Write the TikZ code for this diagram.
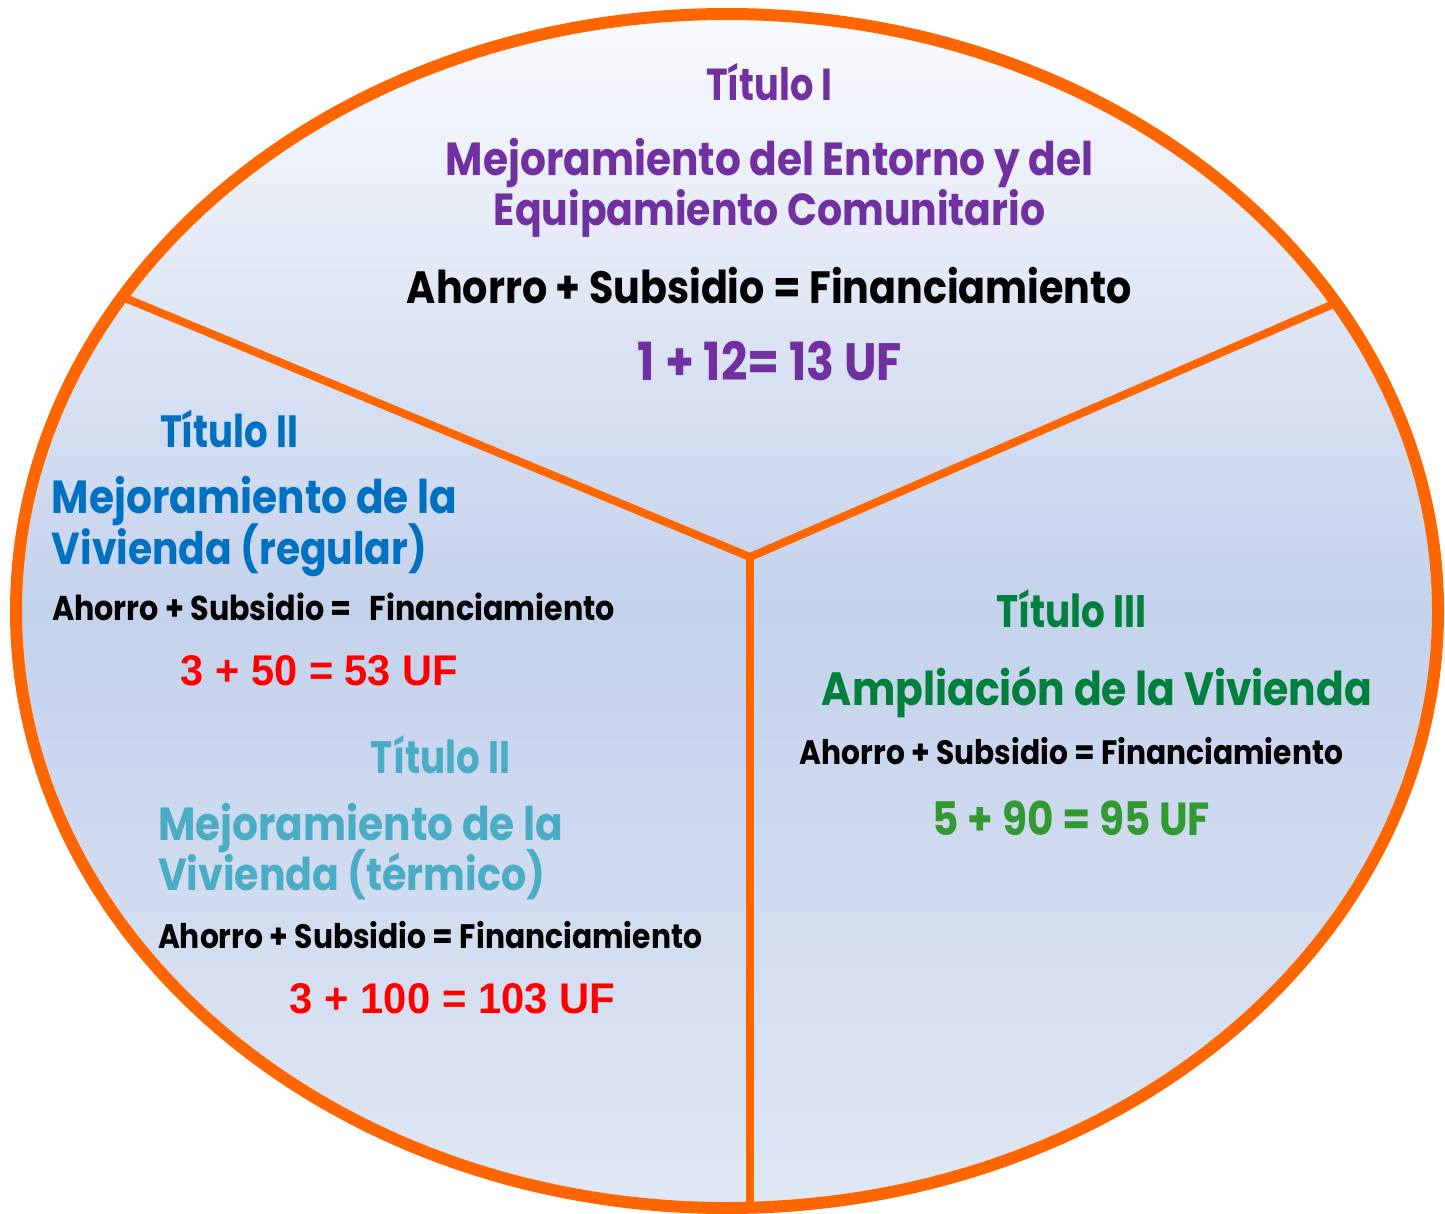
\documentclass[tikz,border=0pt]{standalone}
\usepackage{fontspec}
\setmainfont{Poppins}
\newfontfamily\numfont{Liberation Sans}
\definecolor{orng}{HTML}{FF6600}
\definecolor{purp}{HTML}{7030A0}
\definecolor{blu}{HTML}{0070C0}
\definecolor{lblu}{HTML}{4BACC6}
\definecolor{dgrn}{HTML}{00803C}
\definecolor{lgrn}{HTML}{339933}
\definecolor{redd}{HTML}{FF0000}
\definecolor{topc}{HTML}{F9FAFD}
\definecolor{midc}{HTML}{C4D2EC}
\definecolor{botc}{HTML}{E0E7F4}
\tikzset{
  txt/.style={inner sep=0pt, outer sep=0pt, font=\bfseries},
  divider/.style={draw=orng, line width=8pt},
  rim/.style={draw=orng, line width=12pt},
}
\newcommand{\fitw}[2]{\scalebox{1}[1.14]{\resizebox{#1pt}{!}{#2}}}
\newcommand{\fitt}[2]{\scalebox{1}[1.22]{\resizebox{#1pt}{!}{#2}}}
\newcommand{\fitn}[3]{\resizebox{#1pt}{#2pt}{\numfont\bfseries #3}}
\begin{document}
\begin{tikzpicture}[x=1pt,y=-1pt]
\useasboundingbox (0,0) rectangle (1445,1213);
\clip (0,0) rectangle (1445,1213);
% body
\fill[top color=topc, bottom color=botc, middle color=midc] (727,611) ellipse [x radius=711, y radius=597];
% dividers
\coordinate (hub) at (750,557);
\coordinate (pl) at (125,298);
\coordinate (pr) at (1338,302);
\coordinate (pb) at (750,1212);
\draw[divider] (pl) -- (hub) -- (pr);
\draw[divider] (hub) -- (pb);
\draw[rim] (727,611) ellipse [x radius=711, y radius=597];
% Titulo I
\node[txt, anchor=base, text=purp] (t1) at (769,100) {\fitt{126}{Título I}};
\node[txt, anchor=base, text=purp] (t1a) at (769.5,175) {\fitw{647}{Mejoramiento del Entorno y del}};
\node[txt, anchor=base, text=purp] (t1b) at (769.5,225) {\fitw{551}{Equipamiento Comunitario}};
\node[txt, anchor=base, text=black] (t1c) at (769.5,303) {\fitw{725}{Ahorro + Subsidio = Financiamiento}};
\node[txt, anchor=base, text=purp] (t1d) at (770,380) {\fitw{264}{1 + 12= 13 UF}};
% Titulo II regular
\node[txt, anchor=base west, text=blu] (t2) at (160,447) {\fitt{138}{Título II}};
\node[txt, anchor=base west, text=blu] (t2a) at (52,513) {\fitw{405}{Mejoramiento de la}};
\node[txt, anchor=base west, text=blu] (t2b) at (52,564) {\fitw{375}{Vivienda (regular)}};
\node[txt, anchor=base west, text=black] (t2c) at (52,620) {\fitw{563}{Ahorro + Subsidio =\hspace{0.6em}Financiamiento}};
\node[txt, anchor=base, text=redd] (t2d) at (319.5,685) {\fitn{277}{30}{3 + 50 = 53 UF}};
% Titulo II termico
\node[txt, anchor=base, text=lblu] (t3) at (440.5,773) {\fitt{139}{Título II}};
\node[txt, anchor=base west, text=lblu] (t3a) at (158,840) {\fitw{405}{Mejoramiento de la}};
\node[txt, anchor=base west, text=lblu] (t3b) at (158,890) {\fitw{387}{Vivienda (térmico)}};
\node[txt, anchor=base west, text=black] (t3c) at (158,948) {\fitw{544}{Ahorro + Subsidio = Financiamiento}};
\node[txt, anchor=base, text=redd] (t3d) at (452.5,1013) {\fitn{325}{30}{3 + 100 = 103 UF}};
% Titulo III
\node[txt, anchor=base, text=dgrn] (t4) at (1071,627) {\fitt{150}{Título III}};
\node[txt, anchor=base, text=dgrn] (t4a) at (1097,705) {\fitw{550}{Ampliación de la Vivienda}};
\node[txt, anchor=base, text=black] (t4b) at (1071.5,764) {\fitw{543}{Ahorro + Subsidio = Financiamiento}};
\node[txt, anchor=base, text=lgrn] (t4c) at (1071.5,835) {\fitw{277}{5 + 90 = 95 UF}};
\end{tikzpicture}
\end{document}
